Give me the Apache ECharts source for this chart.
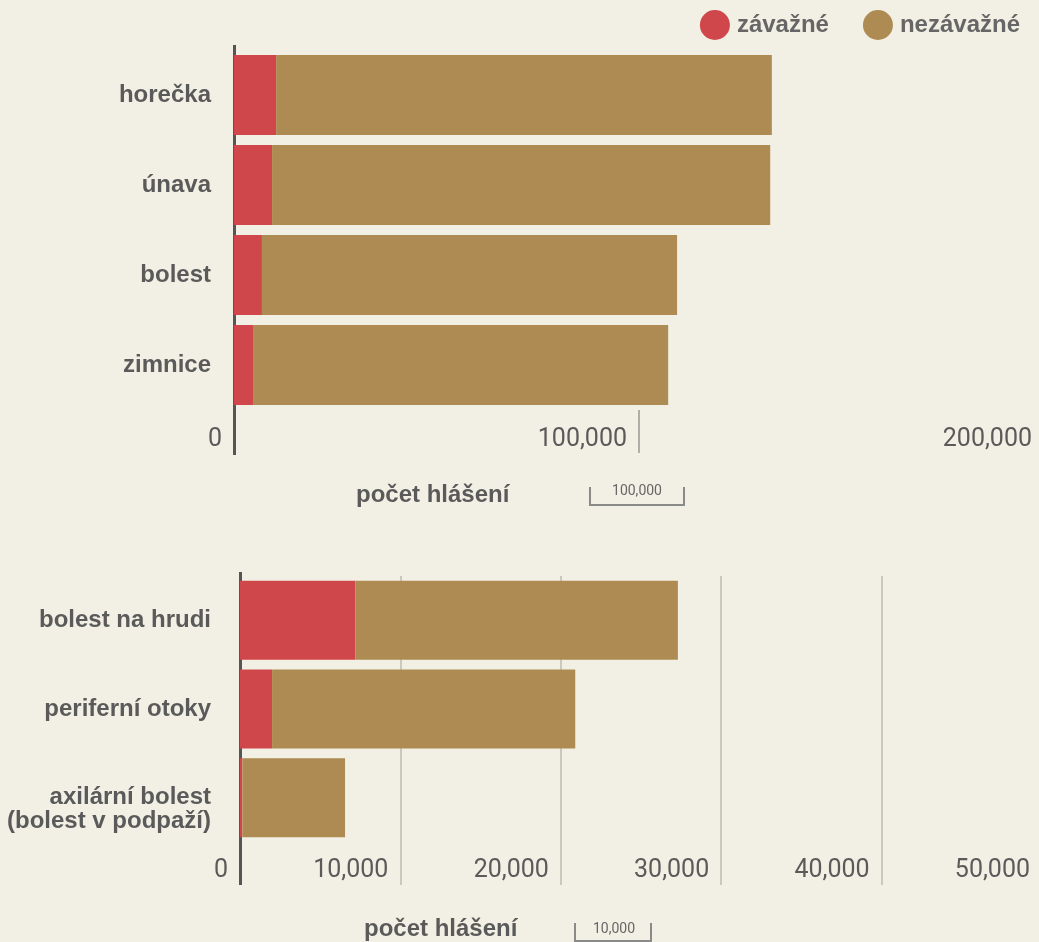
<!DOCTYPE html>
<html>
<head>
<meta charset="utf-8">
<script src="https://cdn.jsdelivr.net/npm/echarts@6/dist/echarts.min.js"></script>
<style>
html,body{margin:0;padding:0;background:#f2f0e4;}
#chart{width:1039px;height:942px;}
</style>
</head>
<body>
<div id="chart"></div>
<script>
// ---- data ----
const seriesNames = ['závažné', 'nezávažné'];
const categoriesTop = ['horečka', 'únava', 'bolest', 'zimnice'];
const seriousTop = [10400, 9400, 6900, 4700];
const nonSeriousTop = [122400, 123000, 102500, 102500];
const ticksTop = [0, 100000, 200000];

const categoriesBottom = ['bolest na hrudi', 'periferní otoky', 'axilární bolest\n(bolest v podpaží)'];
const seriousBottom = [7200, 2000, 150];
const nonSeriousBottom = [20100, 18900, 6400];
const ticksBottom = [0, 10000, 20000, 30000, 40000, 50000];

const axisTitle = 'počet hlášení';
const scaleTop = '100,000';
const scaleBottom = '10,000';

// ---- styles ----
const RED = '#d0474b';
const BROWN = '#ae8b52';
const TXT = '#5a5a5a';
const LABEL_FONT = "'Liberation Sans', Arial, sans-serif";
const NUM_FONT = "Roboto, 'Liberation Sans', sans-serif";
const fmt = v => v.toLocaleString('en-US');

const chart = echarts.init(document.getElementById('chart'), null, {renderer: 'canvas'});

function valueAxis(grid, max, interval, tickColor, split, margin) {
  return {
    type: 'value', gridIndex: grid, min: 0, max: max, interval: interval,
    position: 'bottom',
    axisLine: {show: false},
    axisTick: {show: true, length: 43, lineStyle: {color: tickColor, width: 2}},
    splitLine: {show: split, lineStyle: {color: '#cbc8be', width: 2}},
    axisLabel: {
      show: true, formatter: fmt, align: 'right', verticalAlign: 'middle',
      margin: margin, padding: [0, 12, 0, 0],
      fontFamily: NUM_FONT, fontSize: 25, color: TXT, showMinLabel: true, showMaxLabel: true
    }
  };
}
function frameAxis(grid, max, pos, len) {
  return {
    type: 'value', gridIndex: grid, min: 0, max: max, interval: max, position: pos,
    axisLine: {show: false},
    axisTick: {show: true, length: len, lineStyle: {color: '#555555', width: 3}},
    axisLabel: {show: false}, splitLine: {show: false}
  };
}
function catAxis(grid, cats, margin) {
  return {
    type: 'category', gridIndex: grid, data: cats, inverse: true,
    axisLine: {show: true, lineStyle: {color: '#555555', width: 3}},
    axisTick: {show: false},
    axisLabel: {
      margin: margin, align: 'right',
      // multi-line labels start at the bar centre (first line aligned with the bar)
      formatter: v => v.indexOf('\n') < 0 ? v : ' \n' + v,
      fontFamily: LABEL_FONT, fontWeight: 'bold', fontSize: 24, color: TXT, lineHeight: 24
    }
  };
}

const topMax = ticksTop[ticksTop.length - 1];
const topInt = ticksTop[1] - ticksTop[0];
const botMax = ticksBottom[ticksBottom.length - 1];
const botInt = ticksBottom[1] - ticksBottom[0];

const option = {
  backgroundColor: '#f2f0e4',
  animation: false,
  legend: {
    data: seriesNames,
    right: 19, top: 10, padding: 0,
    icon: 'circle', itemWidth: 30, itemHeight: 30, itemGap: 34,
    textStyle: {fontFamily: LABEL_FONT, fontWeight: 'bold', fontSize: 24, color: '#666666', padding: [0, 0, 0, 2]}
  },
  grid: [
    {left: 234, top: 50, width: 810, height: 360, outerBoundsMode: 'none', containLabel: false},
    {left: 240, top: 576, width: 802, height: 266, outerBoundsMode: 'none', containLabel: false}
  ],
  xAxis: [
    valueAxis(0, topMax, topInt, '#b0aea6', false, 30),
    frameAxis(0, topMax, 'bottom', 45),
    frameAxis(0, topMax, 'top', 5),
    valueAxis(1, botMax, botInt, '#cbc8be', true, 29),
    frameAxis(1, botMax, 'bottom', 43),
    frameAxis(1, botMax, 'top', 4)
  ],
  yAxis: [
    catAxis(0, categoriesTop, 23),
    catAxis(1, categoriesBottom, 29)
  ],
  series: [
    {name: seriesNames[0], type: 'bar', stack: 'top', xAxisIndex: 0, yAxisIndex: 0, data: seriousTop, barWidth: 80, itemStyle: {color: RED}},
    {name: seriesNames[1], type: 'bar', stack: 'top', xAxisIndex: 0, yAxisIndex: 0, data: nonSeriousTop, barWidth: 80, itemStyle: {color: BROWN}},
    {name: seriesNames[0], type: 'bar', stack: 'bot', xAxisIndex: 3, yAxisIndex: 1, data: seriousBottom, barWidth: 79, itemStyle: {color: RED}},
    {name: seriesNames[1], type: 'bar', stack: 'bot', xAxisIndex: 3, yAxisIndex: 1, data: nonSeriousBottom, barWidth: 79, itemStyle: {color: BROWN}}
  ],
  graphic: [
    {type: 'text', left: 356, top: 483, style: {text: axisTitle, font: "bold 24px 'Liberation Sans', Arial, sans-serif", fill: TXT}},
    {type: 'polyline', shape: {points: [[590, 487], [590, 505], [684, 505], [684, 487]]}, style: {stroke: '#8a8a8a', lineWidth: 2, fill: null}},
    {type: 'text', x: 637, y: 491, style: {text: scaleTop, font: "14px Roboto, sans-serif", fill: '#666666', align: 'center', verticalAlign: 'middle'}},
    {type: 'text', left: 364, top: 917, style: {text: axisTitle, font: "bold 24px 'Liberation Sans', Arial, sans-serif", fill: TXT}},
    {type: 'polyline', shape: {points: [[575, 923], [575, 941], [651, 941], [651, 923]]}, style: {stroke: '#8a8a8a', lineWidth: 2, fill: null}},
    {type: 'text', x: 614, y: 929, style: {text: scaleBottom, font: "14px Roboto, sans-serif", fill: '#666666', align: 'center', verticalAlign: 'middle'}}
  ]
};
chart.setOption(option);
</script>
</body>
</html>
